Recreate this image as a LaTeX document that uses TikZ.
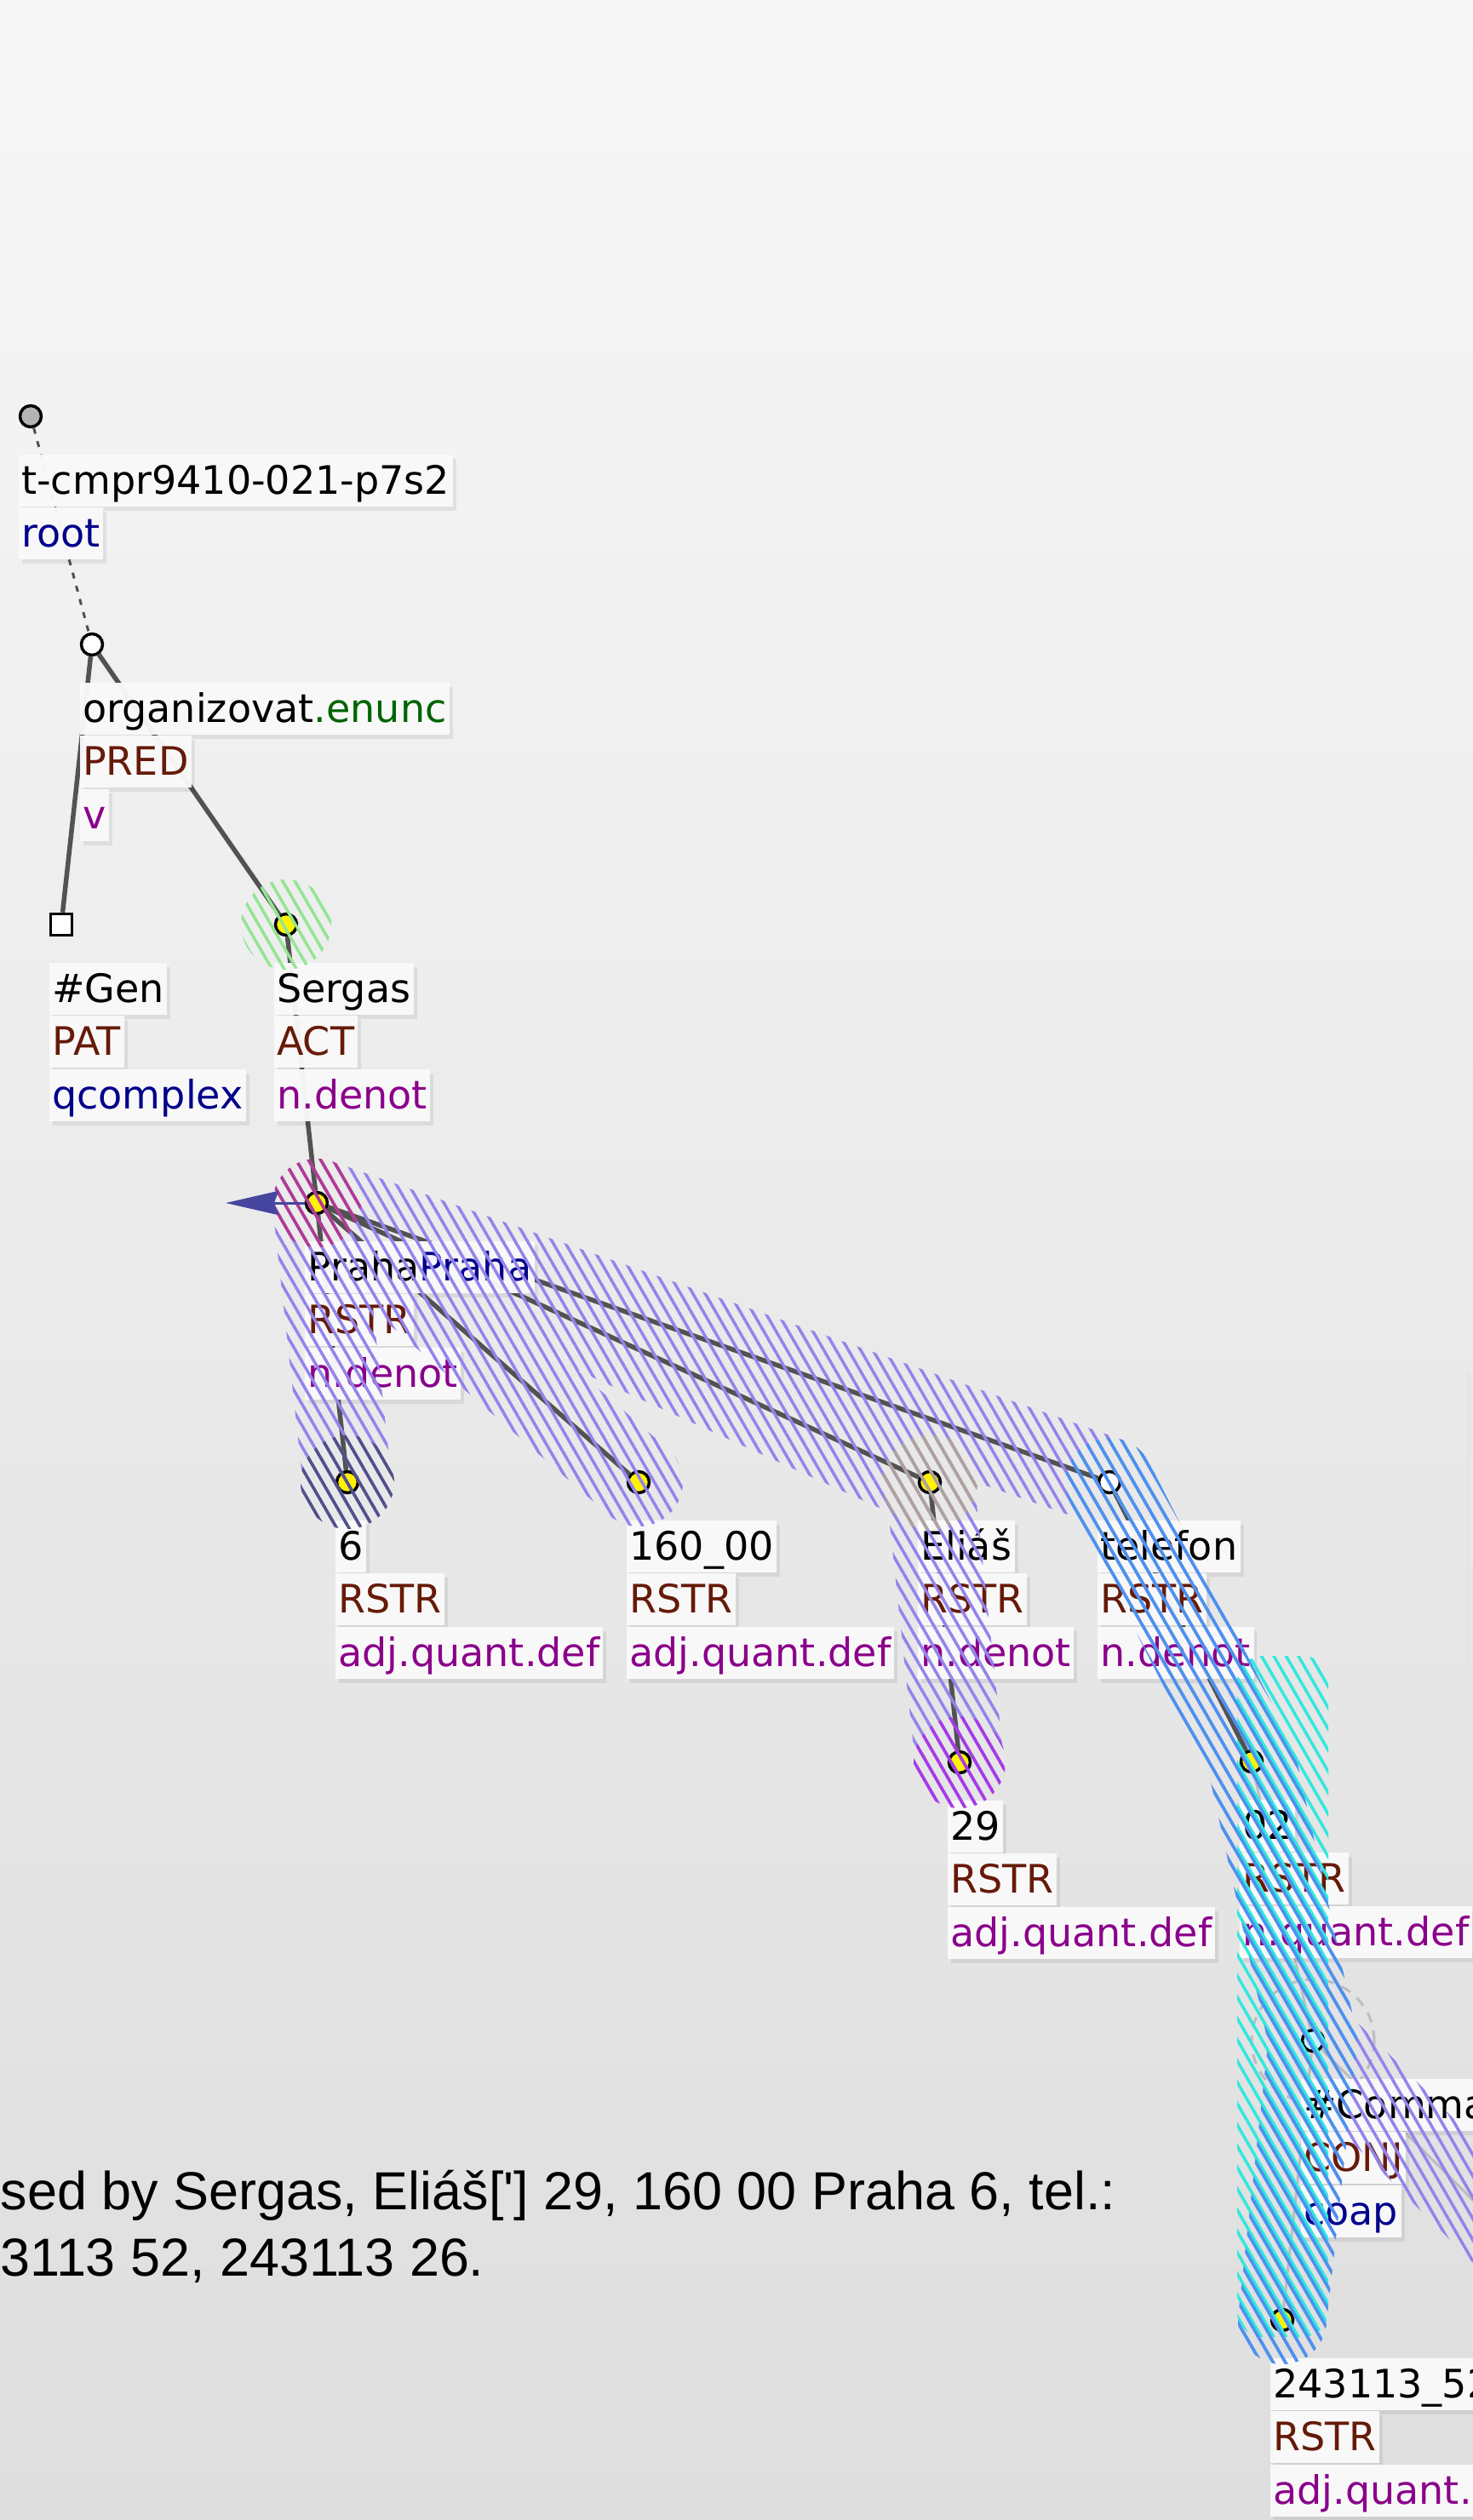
\documentclass[tikz,border=0pt]{standalone}
\usepackage{fontspec}
\setmainfont{DejaVu Sans}
\newfontfamily\sentfont{Liberation Sans}[Ligatures=TeXOff]
\usepackage{tikz}
\usetikzlibrary{arrows.meta, positioning, calc, patterns.meta, shadows}

\definecolor{bgtop}{HTML}{F7F7F7}
\definecolor{bgbot}{HTML}{DEDEDE}
\definecolor{edgegray}{HTML}{525252}
\definecolor{lightedge}{HTML}{BDBDBD}
\definecolor{lblbg}{HTML}{FAFAFA}
\definecolor{funcbrown}{HTML}{661A08}
\definecolor{sempurple}{HTML}{8B008B}
\definecolor{deepblue}{HTML}{00008B}
\definecolor{enuncgreen}{HTML}{006400}
\definecolor{rootgray}{HTML}{B4B4B4}
\definecolor{conjblue}{HTML}{C8F2FF}
\definecolor{corefblue}{HTML}{4646A0}
% hull colours
\definecolor{lavhull}{HTML}{9383EC}
\definecolor{bluehull}{HTML}{4A92F0}
\definecolor{cyanhull}{HTML}{30E8DD}
\definecolor{greenhull}{HTML}{93E593}
\definecolor{pinkhull}{HTML}{B33993}
\definecolor{slatehull}{HTML}{505088}
\definecolor{tanhull}{HTML}{AFA29A}
\definecolor{violethull}{HTML}{A839E8}

\newcommand{\labelfont}{\fontsize{13.1pt}{15pt}\selectfont}
\newcommand{\sentsize}{\fontsize{17.9pt}{21pt}\selectfont}
\def\hullr{0.52cm}

% three stacked label boxes under a tree node
\newcommand{\tlabel}[4]{%
  \node[lbl, anchor=north west] (#1-a) at ($(#1.center)+(-0.15,-0.44)$) {#2};
  \node[lbl, anchor=north west, text=funcbrown] (#1-b) at (#1-a.south west) {#3};
  \node[lbl, anchor=north west] (#1-c) at (#1-b.south west) {#4};
}
% rounded band between two nodes (used inside a path)
\newcommand{\capsule}[2]{%
  let \p1=($(#2)-(#1)$), \n1={atan2(\y1,\x1)} in
  ($(#1)+({\n1+90}:\hullr)$) arc[start angle=\n1+90, delta angle=180, radius=\hullr]
  -- ($(#2)+({\n1-90}:\hullr)$) arc[start angle=\n1-90, delta angle=180, radius=\hullr] -- cycle
}

\tikzset{
  dot/.style={circle, draw=black, line width=0.035cm, minimum size=0.25cm, inner sep=0pt},
  yeldot/.style={dot, fill=yellow},
  plaindot/.style={dot, fill=white},
  rootdot/.style={dot, fill=rootgray},
  conjdot/.style={dot, fill=conjblue},
  gendot/.style={rectangle, draw=black, line width=0.035cm, minimum size=0.25cm, inner sep=0pt, fill=white},
  lbl/.style={fill=lblbg, fill opacity=0.96, text opacity=1, inner xsep=0.035cm, inner ysep=0pt,
    minimum height=0.61cm, text height=0.39cm, text depth=0.07cm, font=\labelfont,
    drop shadow={shadow xshift=0.04cm, shadow yshift=-0.05cm, opacity=0.07, fill=black}},
  edge/.style={draw=edgegray, line width=0.055cm},
  rootedge/.style={draw=edgegray, line width=0.03cm, dash pattern=on 0.07cm off 0.09cm},
  memberedge/.style={draw=lightedge, line width=0.03cm},
  conjring/.style={draw=lightedge, line width=0.03cm, dash pattern=on 0.12cm off 0.1cm},
  hull/.style={fill opacity=0.72, pattern={Lines[angle=-60, distance=0.125cm, line width=0.035cm]}},
  shiftedhull/.style={fill opacity=0.72, pattern={Lines[angle=-60, distance=0.125cm, line width=0.035cm, yshift=0.06cm]}},
  corefarrow/.style={draw=corefblue, line width=0.03cm, -{Stealth[length=0.62cm, width=0.28cm, inset=0.05cm]}},
  sentence/.style={inner sep=0pt, font=\sentfont\sentsize},
}

\begin{document}
\begin{tikzpicture}
	% --- Canvas ---
	\useasboundingbox (0,0) rectangle (17.3,-29.6);
	\shade[top color=bgtop, bottom color=bgbot] (0,0) rectangle (17.3,-29.6);
	\draw[black!10, line width=0.04cm] (17.25,-16.12) -- (17.25,-19.75);
	
	% --- Tree nodes ---
	\node[rootdot] (root) at (0.36,-4.89) {};
	\node[plaindot] (organizovat) at (1.08,-7.57) {};
	\node[gendot] (gen) at (0.72,-10.86) {};
	\node[yeldot] (sergas) at (3.36,-10.86) {};
	\node[yeldot] (praha) at (3.72,-14.13) {};
	\node[yeldot] (six) at (4.08,-17.41) {};
	\node[yeldot] (n16000) at (7.50,-17.41) {};
	\node[yeldot] (elias) at (10.92,-17.41) {};
	\node[plaindot] (telefon) at (13.03,-17.41) {};
	\node[yeldot] (n29) at (11.27,-20.70) {};
	\node[yeldot] (n02) at (14.70,-20.69) {};
	\node[conjdot] (comma) at (15.42,-23.97) {};
	\node[yeldot] (n243) at (15.06,-27.25) {};
	\coordinate (commaright) at (18.71,-27.25); % second member, outside the window
	\coordinate (corefend) at (2.65,-14.13);
	
	% --- Edges ---
	\draw[rootedge] (root) -- (organizovat);
	\draw[edge] (organizovat) -- (gen);
	\draw[edge] (organizovat) -- (sergas);
	\draw[edge] (sergas) -- (praha);
	\foreach \kid in {six, n16000, elias, telefon}
		\draw[edge] (praha) -- (\kid);
	\draw[edge] (elias) -- (n29);
	\draw[edge] (telefon) -- (n02);
	\draw[memberedge] (n02) -- (comma);
	\draw[memberedge] (comma) -- (n243);
	\draw[memberedge] (comma) -- (commaright);
	\draw[conjring] (comma.center) circle (0.72);
	
	% --- Labels ---
	\node[lbl, anchor=north west] (root-a) at ($(root.center)+(-0.15,-0.44)$) {t-cmpr9410-021-p7s2};
	\node[lbl, anchor=north west, text=deepblue] (root-b) at (root-a.south west) {root};
	\tlabel{organizovat}{organizovat\textcolor{enuncgreen}{.enunc}}{PRED}{\textcolor{sempurple}{v}}
	\tlabel{gen}{\#Gen}{PAT}{\textcolor{deepblue}{qcomplex}}
	\tlabel{sergas}{Sergas}{ACT}{\textcolor{sempurple}{n.denot}}
	\tlabel{praha}{Praha\textcolor{deepblue}{Praha}}{RSTR}{\textcolor{sempurple}{n.denot}}
	\tlabel{six}{6}{RSTR}{\textcolor{sempurple}{adj.quant.def}}
	\tlabel{n16000}{160\_00}{RSTR}{\textcolor{sempurple}{adj.quant.def}}
	\tlabel{elias}{Eliáš}{RSTR}{\textcolor{sempurple}{n.denot}}
	\tlabel{telefon}{telefon}{RSTR}{\textcolor{sempurple}{n.denot}}
	\tlabel{n29}{29}{RSTR}{\textcolor{sempurple}{adj.quant.def}}
	\tlabel{n02}{02}{RSTR}{\textcolor{sempurple}{n.quant.def}}
	\tlabel{comma}{\#Comma}{CONJ}{\textcolor{deepblue}{coap}}
	\tlabel{n243}{243113\_52}{RSTR}{\textcolor{sempurple}{adj.quant.def}}
	
	% --- Sentence ---
	\node[sentence, anchor=base west] (sentA) at (0,-25.95) {sed by Sergas, Eliáš[{\char39}] 29, 160 00 Praha 6, tel.:};
	\node[sentence, anchor=base west] (sentB) at (0,-26.73) {3113 52, 243113 26.};
	
	% --- Hatched hulls ---
	\path[hull, pattern color=lavhull]
		\capsule{praha}{six} \capsule{praha}{n16000} \capsule{praha}{elias}
		\capsule{elias}{n29} \capsule{praha}{telefon} \capsule{telefon}{n02}
		\capsule{n02}{comma} \capsule{comma}{n243} \capsule{comma}{commaright};
	\path[shiftedhull, pattern color=cyanhull, rounded corners=0.3cm] (14.53,-19.45) rectangle (15.60,-27.45);
	\path[hull, fill opacity=0.62, pattern color=bluehull]
		\capsule{telefon}{n02} \capsule{n02}{comma} \capsule{comma}{n243};
	\path[hull, pattern color=greenhull] (sergas.center) circle (0.53);
	\path[hull, pattern color=pinkhull] (praha.center) circle (0.52);
	\path[hull, pattern color=slatehull] (six.center) circle (0.55);
	\path[hull, pattern color=tanhull] (elias.center) circle (0.56);
	\path[hull, pattern color=violethull] (n29.center) circle (0.54);
	% coreference arrow
	\draw[corefarrow] (praha) -- (corefend);
\end{tikzpicture}
\end{document}
